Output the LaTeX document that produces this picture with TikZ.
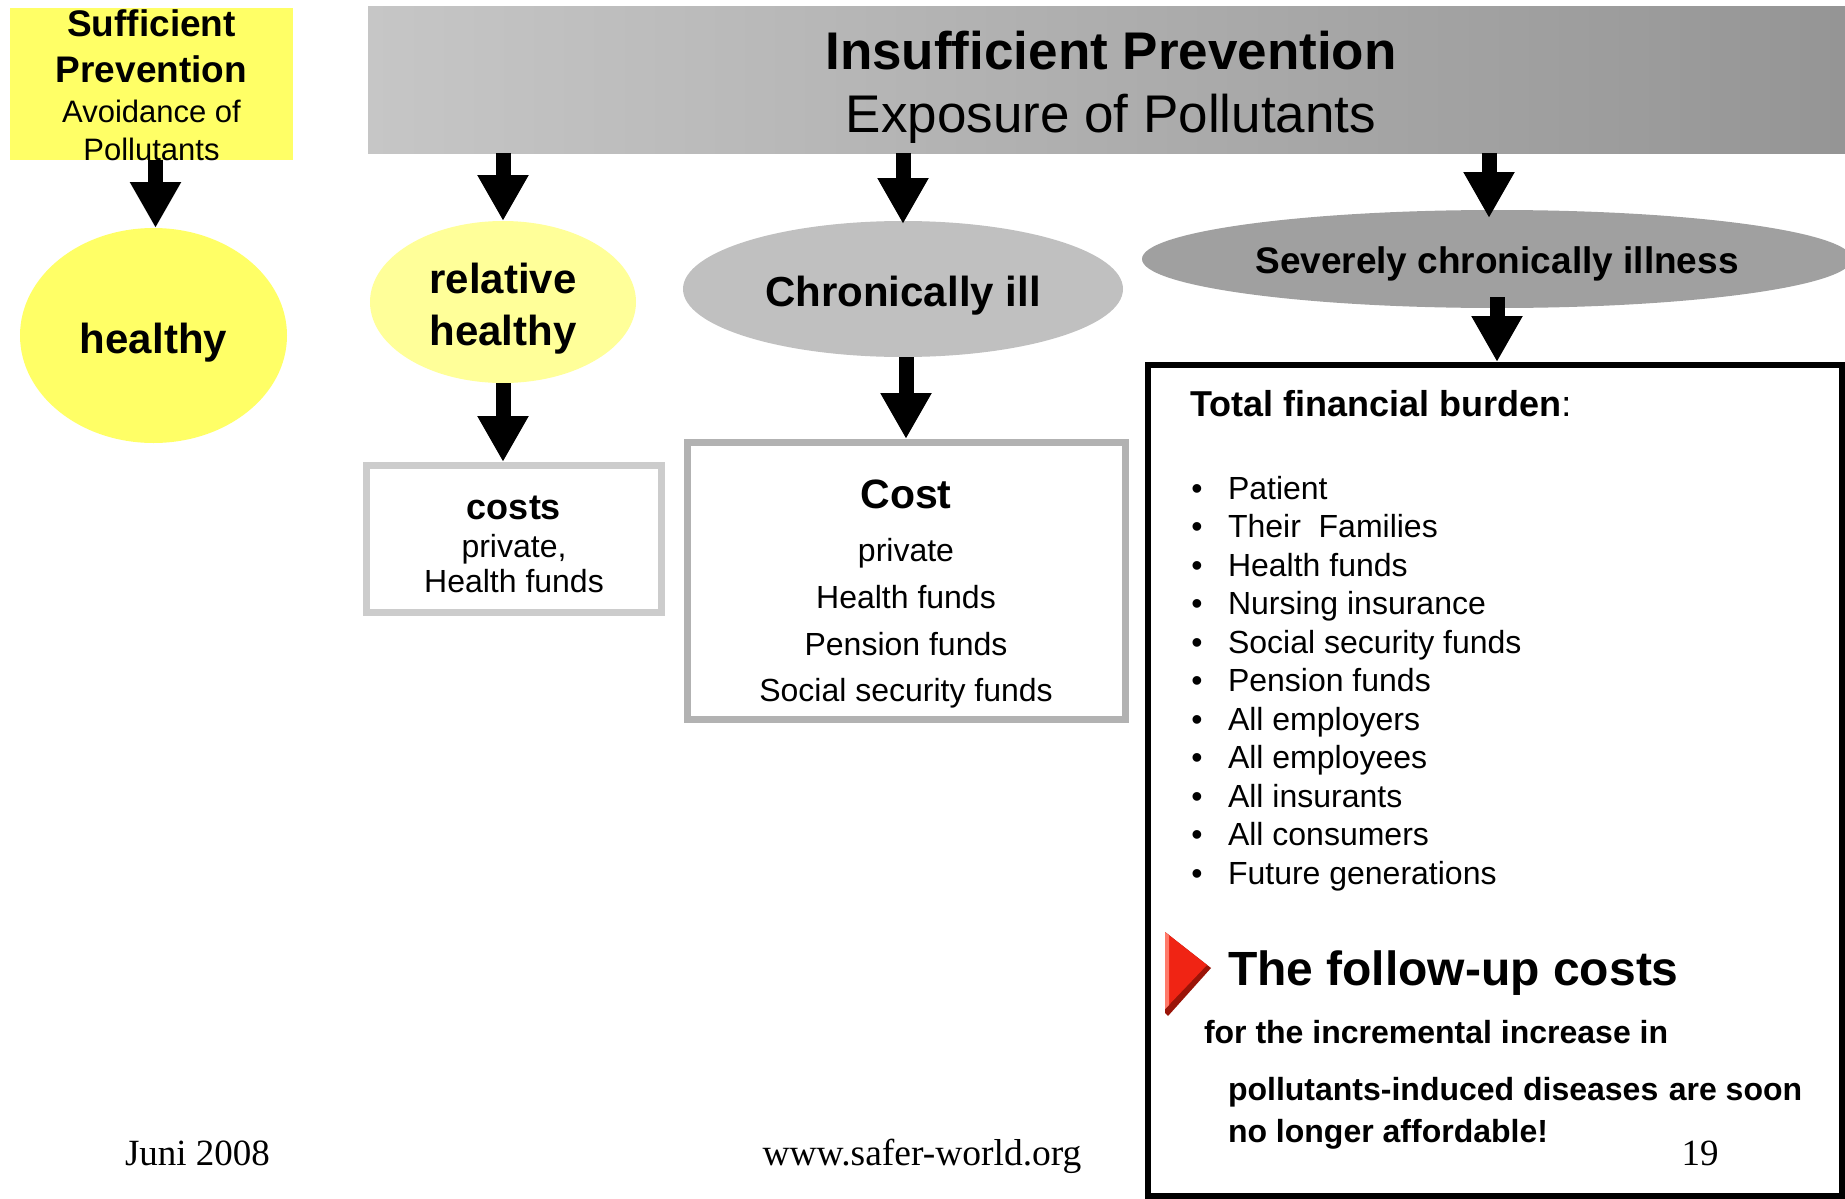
\documentclass[tikz,border=0pt]{standalone}
\usepackage{fontspec}
\setmainfont{Liberation Sans}
\newfontfamily\serifft{Liberation Serif}
\usetikzlibrary{shapes.geometric,arrows.meta}
\newcommand\fsz[1]{\fontsize{#1pt}{#1pt}\selectfont}
\definecolor{yellowA}{HTML}{FFFF66}
\definecolor{yellowB}{HTML}{FFFF99}
\definecolor{grayC}{HTML}{C0C0C0}
\definecolor{grayS}{HTML}{A0A0A0}
\definecolor{boxL}{HTML}{CCCCCC}
\definecolor{boxM}{HTML}{B2B2B2}
\definecolor{bannerL}{HTML}{C6C6C6}
\definecolor{bannerR}{HTML}{959595}
\definecolor{trired}{HTML}{F02414}
\definecolor{trishadow}{HTML}{9A1408}
\definecolor{trilight}{HTML}{FF7A6A}
\begin{document}
\begin{tikzpicture}[x=1pt,y=-1pt,
  lbl/.style={inner sep=0pt, outer sep=0pt, anchor=base},
  blockarrow/.style={line width=15pt, -{Triangle[width=48pt,length=46pt]}, black},
  ell/.style={ellipse, draw=none, inner sep=0pt, outer sep=0pt},
  plainbox/.style={rectangle, inner sep=0pt, anchor=north west},
]
\useasboundingbox (0,0) rectangle (1845,1199);
\fill[white] (0,0) rectangle (1845,1199);

% top boxes
\node[plainbox, fill=yellowA, minimum width=283pt, minimum height=152pt, outer sep=0pt] (suff) at (10,8) {};
\node[plainbox, left color=bannerL, right color=bannerR, minimum width=1477pt, minimum height=146pt, outer sep=0pt] (banner) at (368,7) {};

% ellipses
\node[ell, fill=yellowA, minimum width=267pt, minimum height=215pt] (healthy) at (153.5,335.5) {};
\node[ell, fill=yellowB, minimum width=266pt, minimum height=162pt] (relh) at (503,302) {};
\node[ell, fill=grayC, minimum width=440pt, minimum height=136pt] (chron) at (903,289) {};
\node[ell, fill=grayS, minimum width=710pt, minimum height=98pt] (sev) at (1497,259) {};

% cost boxes
\node[plainbox, draw=boxL, line width=7pt, minimum width=295pt, minimum height=147pt] (costs) at (363,462) {};
\node[plainbox, draw=boxM, line width=7pt, minimum width=438pt, minimum height=277pt] (cost) at (684,439) {};
\node[plainbox, draw=black, line width=6pt, minimum width=694pt, minimum height=831pt] (total) at (1145,362) {};

% arrows
\draw[blockarrow] ([xshift=2pt]healthy.north |- suff.south) -- ([xshift=2pt]healthy.north);
\draw[blockarrow] (relh.north |- banner.south) -- (relh.north);
\draw[blockarrow, shorten >=-3pt] (chron.north |- banner.south) -- (chron.north);
\draw[blockarrow, shorten >=-8pt] ([xshift=-8pt]sev.north |- banner.south) -- ([xshift=-8pt]sev.north);
\draw[blockarrow] (relh.south) -- (relh.south |- costs.north);
\draw[blockarrow] ([xshift=3pt]chron.south) -- ([xshift=3pt]chron.south |- cost.north);
\draw[blockarrow, shorten <=-11pt] (sev.south) -- (sev.south |- total.north);

% texts top-left
\node[lbl] (t1) at (151.5,37) {\fsz{37}\bfseries Sufficient};
\node[lbl] (t2) at (151.5,82) {\fsz{37}\bfseries Prevention};
\node[lbl] (t3) at (151.5,122) {\fsz{31}Avoidance of};
\node[lbl] (t4) at (151.5,160) {\fsz{31}Pollutants};

% banner texts
\node[lbl] (b1) at (1111,70) {\fsz{53}\bfseries Insufficient Prevention};
\node[lbl] (b2) at (1111,132) {\fsz{53}Exposure of Pollutants};

% ellipse texts
\node[lbl] (e1) at (153.5,353) {\fsz{42}\bfseries healthy};
\node[lbl] (e2) at (503,293) {\fsz{42}\bfseries relative};
\node[lbl] (e3) at (503,345) {\fsz{42}\bfseries healthy};
\node[lbl] (e4) at (903,306) {\fsz{42}\bfseries Chronically ill};
\node[lbl] (e5) at (1497,273) {\fsz{37}\bfseries Severely chronically illness};

% costs box texts
\node[lbl] (c1) at (514,519) {\fsz{36}\bfseries costs};
\node[lbl] (c2) at (514,557) {\fsz{32}private,};
\node[lbl] (c3) at (514,592) {\fsz{32}Health funds};

% cost box texts
\node[lbl] (d1) at (906,508) {\fsz{41}\bfseries Cost};
\node[lbl] (d2) at (906,561) {\fsz{32}private};
\node[lbl] (d3) at (906,608) {\fsz{32}Health funds};
\node[lbl] (d4) at (906,655) {\fsz{32}Pension funds};
\node[lbl] (d5) at (906,701) {\fsz{32}Social security funds};

% total box
\node[lbl, anchor=base west] (tot) at (1190,416) {\fsz{36}{\bfseries Total financial burden}:};
\foreach \t [count=\i from 0] in {Patient, Their~ Families, Health funds, Nursing insurance, Social security funds, Pension funds, All employers, All employees, All insurants, All consumers, Future generations}{
  \node[lbl] (bul\i) at (1197,{499+38.5*\i}) {\fsz{32}•};
  \node[lbl, anchor=base west] (item\i) at (1228,{499+38.5*\i}) {\fsz{32}\t};
}

% red triangle
\fill[trishadow] (1165,932) -- (1211,968) -- (1168,1016) -- (1165,1013) -- cycle;
\fill[trired] (1165,932) -- (1207,965) -- (1165,1009) -- cycle;
\fill[trilight] (1165,932) -- (1169,935.5) -- (1169,1005) -- (1165,1009) -- cycle;

\node[lbl, anchor=base west] (f1) at (1228,985) {\fsz{48}\bfseries The follow-up costs};
\node[lbl, anchor=base west] (f2) at (1204,1043) {\fsz{32}\bfseries for the incremental increase in};
\node[lbl, anchor=base west] (f3) at (1228,1100) {\fsz{32}\bfseries pollutants-induced diseases\hspace{0.05em} are soon};
\node[lbl, anchor=base west] (f4) at (1228,1142) {\fsz{32}\bfseries no longer affordable!};

% footer
\node[lbl, anchor=base west] (juni) at (125,1165) {\serifft\fsz{37}Juni 2008};
\node[lbl] (www) at (922,1165) {\serifft\fsz{37.5}www.safer-world.org};
\node[lbl] (pg) at (1700,1165) {\serifft\fsz{37}19};
\end{tikzpicture}
\end{document}
